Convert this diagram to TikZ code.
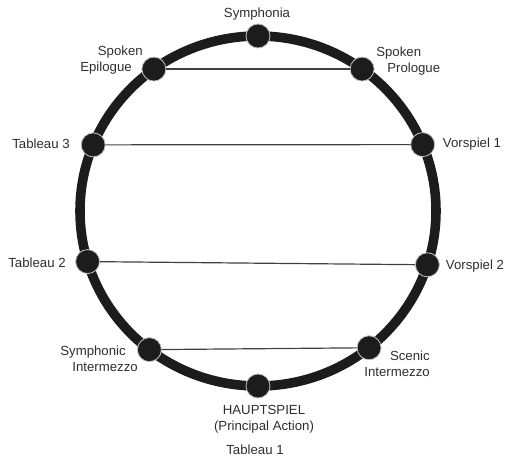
\documentclass[tikz,border=0pt]{standalone}
\usepackage{fontspec}
\setmainfont{Liberation Sans}
\usetikzlibrary{positioning}
\definecolor{ringcol}{HTML}{1C1C1C}
\definecolor{txtcol}{HTML}{2E2E2E}

\begin{document}
\begin{tikzpicture}[x=1cm,y=1cm,
  stagedot/.style={circle, fill=ringcol, draw=white!75!black, line width=0.6pt, minimum size=0.6cm, inner sep=0pt},
  lbl/.style={text=txtcol, inner sep=0pt, font=\fontsize{9.4}{11.4}\selectfont},
  chord/.style={line width=0.85pt, draw=black!75}]
\useasboundingbox (-6.45,-6.275) rectangle (6.175,5.275);

\draw[line width=6.8pt, ringcol] (0,0) ellipse [x radius=4.45cm, y radius=4.375cm];

\node[stagedot] (sym)   at (90:4.45 and 4.375) {};
\node[stagedot] (epi)   at (125.8:4.45 and 4.375) {};
\node[stagedot] (pro)   at (54.2:4.45 and 4.375) {};
\node[stagedot] (tabc)  at (157.8:4.45 and 4.375) {};
\node[stagedot] (vora)  at (22.3:4.45 and 4.375) {};
\node[stagedot] (tabb)  at (196.8:4.45 and 4.375) {};
\node[stagedot] (vorb)  at (-17.9:4.45 and 4.375) {};
\node[stagedot] (symi)  at (232.4:4.45 and 4.375) {};
\node[stagedot] (sceni) at (-51.4:4.45 and 4.375) {};
\node[stagedot] (haupt) at (270:4.45 and 4.375) {};

\draw[chord] (epi) -- (pro);
\draw[chord] (tabc) -- (vora);
\draw[chord] (tabb) -- (vorb);
\draw[chord] (symi) -- (sceni);

\node[lbl] (symt) at (-0.025,4.925) {Symphonia};
\node[lbl, align=right, anchor=east] (epit) at (-3.15,3.775) {Spoken\hspace*{-0.275cm}\\Epilogue};
\node[lbl, align=left, anchor=west] (prot) at (2.95,3.7375) {Spoken\\\hspace*{0.275cm}Prologue};
\node[lbl] (tabct) at (-5.425,1.675) {Tableau 3};
\node[lbl] (vorat) at (5.35,1.675) {Vorspiel 1};
\node[lbl] (tabbt) at (-5.525,-1.3) {Tableau 2};
\node[lbl] (vorbt) at (5.425,-1.375) {Vorspiel 2};
\node[lbl, align=right, anchor=east] (symit) at (-3.0,-3.7) {Symphonic\hspace*{0.3cm}\\Intermezzo};
\node[lbl, align=right, anchor=east] (scenit) at (4.3,-3.8125) {Scenic\\Intermezzo};
\node[lbl, align=center] (hauptt) at (0.15,-5.2125) {HAUPTSPIEL\\(Principal Action)};
\node[lbl] (tabat) at (-0.075,-5.975) {Tableau 1};
\end{tikzpicture}
\end{document}
